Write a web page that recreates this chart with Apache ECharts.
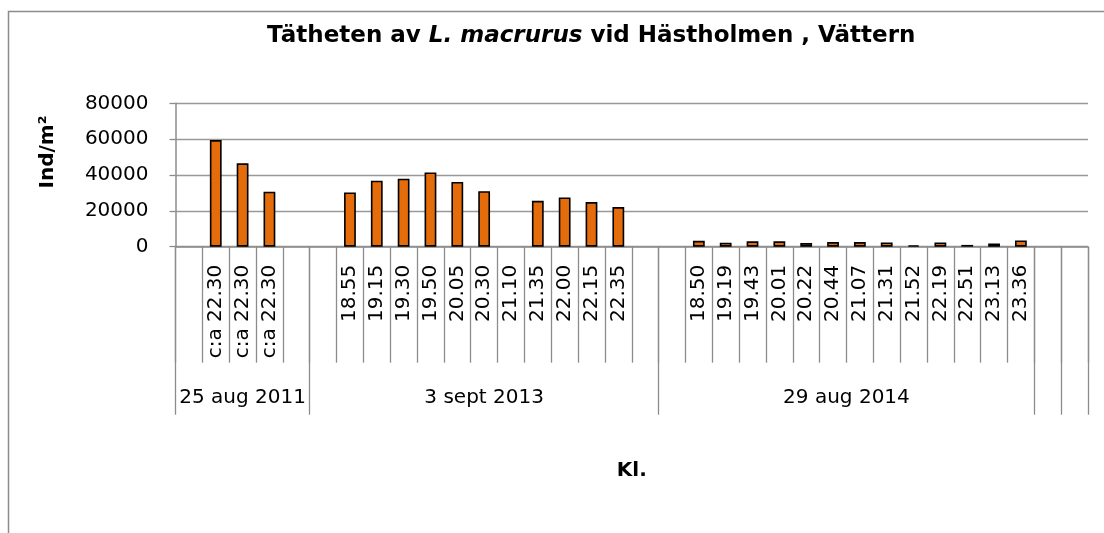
<!DOCTYPE html>
<html>
<head>
<meta charset="utf-8">
<title>Tätheten av L. macrurus vid Hästholmen, Vättern</title>
<script src="https://cdn.jsdelivr.net/npm/echarts@6/dist/echarts.min.js"></script>
<style>
  html, body { margin: 0; padding: 0; background: #fff; }
  #chart { width: 1104px; height: 533px; }
</style>
</head>
<body>
<div id="chart"></div>
<script>
// klockslag per provtillfälle ('' = tom kategori)
const times2011 = ['', 'c:a 22.30', 'c:a 22.30', 'c:a 22.30', '']
const values2011 = [null, 59500, 46500, 30700, null]

const times2013 = ['', '18.55', '19.15', '19.30', '19.50', '20.05', '20.30', '21.10', '21.35', '22.00', '22.15', '22.35', '']
const values2013 = [null, 30300, 36800, 37900, 41400, 36100, 31000, null, 25600, 27500, 24900, 22100, null]

const times2014 = ['', '18.50', '19.19', '19.43', '20.01', '20.22', '20.44', '21.07', '21.31', '21.52', '22.19', '22.51', '23.13', '23.36']
const values2014 = [null, 3300, 2200, 3000, 3000, 2000, 2600, 2600, 2400, 800, 2400, 1000, 1800, 3500]

// två tomma kategorier sist
const timesTail = ['', '']
const valuesTail = [null, null]

const groupNames = ['25 aug 2011', '3 sept 2013', '29 aug 2014', '', '']
const groupSizes = [times2011.length, times2013.length, times2014.length, 1, 1]

const yTicks = [0, 20000, 40000, 60000, 80000]

const times = [].concat(times2011, times2013, times2014, timesTail)
const values = [].concat(values2011, values2013, values2014, valuesTail)

// andra nivån: halva kategorier som punkter, etikett mitt i gruppen
const groupPts = new Array(times.length * 2 + 1).fill('')
const bounds = [0]
let start = 0
groupSizes.forEach((n, i) => {
  if (groupNames[i]) groupPts[start * 2 + n] = groupNames[i]
  start += n
  bounds.push(start * 2)
})

const font = 'DejaVu Sans'
const grey = '#8c8c8c'

const chart = echarts.init(document.getElementById('chart'))
chart.setOption({
  animation: false,
  textStyle: { fontFamily: font },
  graphic: [
    {
      type: 'rect',
      z: -10,
      shape: { x: 8.5, y: 11.5, width: 1300, height: 800 },
      style: { fill: 'none', stroke: grey, lineWidth: 1.5 }
    }
  ],
  title: {
    text: '{b|Tätheten av }{i|L. macrurus}{b| vid Hästholmen , Vättern}',
    left: 262,
    top: 20,
    textStyle: {
      rich: {
        b: { fontFamily: font, fontSize: 23, fontWeight: 'bold', color: '#000' },
        i: { fontFamily: font, fontSize: 23, fontWeight: 'bold', fontStyle: 'italic', color: '#000' }
      }
    }
  },
  grid: {
    left: 175.5,
    right: 16,
    top: 103.3,
    bottom: 286.3,
    containLabel: false
  },
  xAxis: [
    {
      type: 'category',
      position: 'bottom',
      data: times,
      axisLine: { lineStyle: { color: grey, width: 1.5 } },
      axisTick: { show: true, interval: 0, length: 116, lineStyle: { color: grey, width: 1.3 } },
      axisLabel: {
        interval: 0,
        rotate: 90,
        margin: 18,
        formatter: (v) => (v ? '{t|' + v + '}' : ''),
        rich: {
          t: { width: 94, align: 'right', fontSize: 20, color: '#000', fontFamily: font }
        }
      }
    },
    {
      type: 'category',
      position: 'bottom',
      boundaryGap: false,
      data: groupPts,
      name: 'Kl.',
      nameLocation: 'middle',
      nameGap: 214,
      nameTextStyle: { fontFamily: font, fontSize: 20, fontWeight: 'bold', color: '#000' },
      axisLine: { show: false },
      axisTick: {
        show: true,
        length: 168,
        interval: (index) => bounds.includes(index),
        lineStyle: { color: grey, width: 1.3 }
      },
      axisLabel: {
        interval: (index, value) => value !== '',
        margin: 141,
        fontSize: 20,
        color: '#000',
        fontFamily: font
      }
    }
  ],
  yAxis: {
    type: 'value',
    min: yTicks[0],
    max: yTicks[yTicks.length - 1],
    interval: yTicks[1] - yTicks[0],
    name: 'Ind/m²',
    nameLocation: 'middle',
    nameRotate: 90,
    nameGap: 118,
    nameTextStyle: {
      fontFamily: font,
      fontSize: 20,
      fontWeight: 'bold',
      color: '#000',
      padding: [0, 0, 0, 46]
    },
    axisLine: { show: true, lineStyle: { color: grey, width: 1.5 } },
    axisTick: { show: true, length: 6, lineStyle: { color: grey, width: 1.3 } },
    axisLabel: { margin: 27, fontSize: 20, color: '#000', fontFamily: font, formatter: (v) => String(v) },
    splitLine: { show: true, lineStyle: { color: '#999', width: 1.3 } }
  },
  series: [
    {
      type: 'bar',
      xAxisIndex: 0,
      data: values,
      barWidth: '44%',
      itemStyle: {
        color: '#e46c0a',
        borderColor: '#000',
        borderWidth: 1.6
      }
    }
  ]
})
</script>
</body>
</html>
